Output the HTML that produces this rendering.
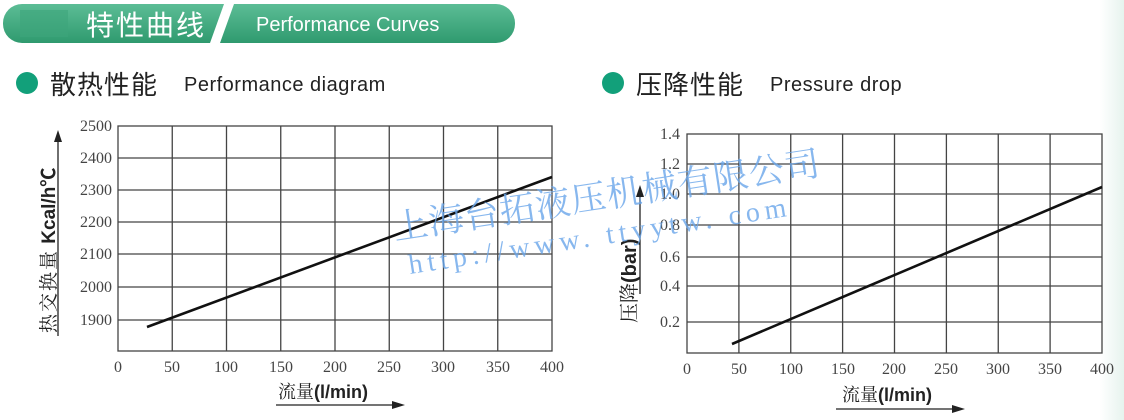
<!DOCTYPE html>
<html><head><meta charset="utf-8"><style>
html,body{margin:0;padding:0;background:#fff;width:1124px;height:420px;overflow:hidden}
text{font-family:"Liberation Sans","Noto Sans CJK SC",sans-serif}
.s{font-family:"Liberation Serif","Noto Serif CJK SC",serif}
</style></head><body>
<svg width="1124" height="420" xmlns="http://www.w3.org/2000/svg">
<defs><linearGradient id="g" x1="0" y1="0" x2="0" y2="1"><stop offset="0" stop-color="#5cbd96"/><stop offset="1" stop-color="#2f9a6f"/></linearGradient>
<linearGradient id="r" x1="0" y1="0" x2="1" y2="0"><stop offset="0" stop-color="#fff"/><stop offset="1" stop-color="#e6f3ee"/></linearGradient></defs>
<rect x="1100" y="0" width="24" height="420" fill="url(#r)"/>
<rect x="3" y="4" width="512" height="39" rx="19" fill="url(#g)"/>
<rect x="20" y="10" width="48" height="27" fill="#3ea57c" opacity="0.6"/>
<polygon points="224,4 234,4 220,43 210,43" fill="#fff"/>
<text x="86" y="35" font-size="28" fill="#fff" letter-spacing="2">特性曲线</text>
<text x="256" y="31" font-size="20" fill="#fff">Performance Curves</text>
<circle cx="27" cy="83" r="11" fill="#12a07a"/>
<text x="50" y="94" font-size="26" fill="#222" letter-spacing="1">散热性能</text>
<text x="184" y="91" font-size="20" fill="#222" letter-spacing="0.5">Performance diagram</text>
<circle cx="613" cy="83" r="11" fill="#12a07a"/>
<text x="636" y="94" font-size="26" fill="#222" letter-spacing="1">压降性能</text>
<text x="770" y="91" font-size="20" fill="#222" letter-spacing="0.5">Pressure drop</text>

<g stroke="#444" stroke-width="1.3" fill="none">
<rect x="118" y="126" width="434" height="225"/>
<path d="M172.25 126V351M226.5 126V351M280.75 126V351M335 126V351M389.25 126V351M443.5 126V351M497.75 126V351"/>
<path d="M118 158H552M118 190H552M118 222H552M118 254H552M118 287H552M118 320H552"/>
<rect x="687" y="134" width="415" height="219"/>
<path d="M738.9 134V353M790.75 134V353M842.6 134V353M894.5 134V353M946.4 134V353M998.25 134V353M1050.1 134V353"/>
<path d="M687 164H1102M687 194H1102M687 225H1102M687 257H1102M687 286H1102M687 322H1102"/>
</g>
<line x1="147" y1="327" x2="552" y2="177" stroke="#111" stroke-width="2.6"/>
<line x1="732" y1="344" x2="1102" y2="187" stroke="#111" stroke-width="2.6"/>

<g font-size="16" fill="#444" text-anchor="end">
<text x="112" y="131" class="s">2500</text><text x="112" y="163" class="s">2400</text><text x="112" y="195" class="s">2300</text>
<text x="112" y="227" class="s">2200</text><text x="112" y="259" class="s">2100</text><text x="112" y="292" class="s">2000</text><text x="112" y="325" class="s">1900</text>
<text x="680" y="139" class="s">1.4</text><text x="680" y="169" class="s">1.2</text><text x="680" y="199" class="s">1.0</text>
<text x="680" y="230" class="s">0.8</text><text x="680" y="262" class="s">0.6</text><text x="680" y="291" class="s">0.4</text><text x="680" y="327" class="s">0.2</text>
</g>
<g font-size="16" fill="#444" text-anchor="middle">
<text x="118" y="372" class="s">0</text><text x="172" y="372" class="s">50</text><text x="226" y="372" class="s">100</text><text x="281" y="372" class="s">150</text><text x="335" y="372" class="s">200</text><text x="389" y="372" class="s">250</text><text x="443" y="372" class="s">300</text><text x="498" y="372" class="s">350</text><text x="552" y="372" class="s">400</text>
<text x="687" y="374" class="s">0</text><text x="739" y="374" class="s">50</text><text x="791" y="374" class="s">100</text><text x="843" y="374" class="s">150</text><text x="894" y="374" class="s">200</text><text x="946" y="374" class="s">250</text><text x="998" y="374" class="s">300</text><text x="1050" y="374" class="s">350</text><text x="1102" y="374" class="s">400</text>
</g>
<!-- axis titles -->
<line x1="58" y1="336" x2="58" y2="140" stroke="#222" stroke-width="1.3"/><polygon points="54,142 62,142 58,130" fill="#222"/>
<text transform="translate(55,333) rotate(-90)" font-size="19" fill="#222"><tspan class="s" letter-spacing="2">热交换量</tspan>  <tspan font-weight="bold">Kcal/h℃</tspan></text>
<line x1="640" y1="294" x2="640" y2="195" stroke="#222" stroke-width="1.3"/><polygon points="636,197 644,197 640,185" fill="#222"/>
<text transform="translate(636,323) rotate(-90)" font-size="20" fill="#222"><tspan class="s">压降</tspan><tspan font-weight="bold">(bar)</tspan></text>
<text x="278" y="398" font-size="18" fill="#222"><tspan class="s">流量</tspan><tspan font-weight="bold">(l/min)</tspan></text>
<line x1="276" y1="405" x2="395" y2="405" stroke="#222" stroke-width="1.3"/><polygon points="392,401 405,405 392,409" fill="#222"/>
<text x="842" y="401" font-size="18" fill="#222"><tspan class="s">流量</tspan><tspan font-weight="bold">(l/min)</tspan></text>
<line x1="836" y1="409" x2="955" y2="409" stroke="#222" stroke-width="1.3"/><polygon points="952,405 965,409 952,413" fill="#222"/>
<!-- watermark -->
<g fill="#6aa6ea" opacity="0.8">
<text transform="translate(395,240) rotate(-8.7)" font-size="35" class="s" letter-spacing="1">上海台拓液压机械有限公司</text>
<text transform="translate(410,274) rotate(-8.7)" font-size="28" class="s" letter-spacing="5">http://www. ttyytw. com</text>
</g>
</svg>
</body></html>
